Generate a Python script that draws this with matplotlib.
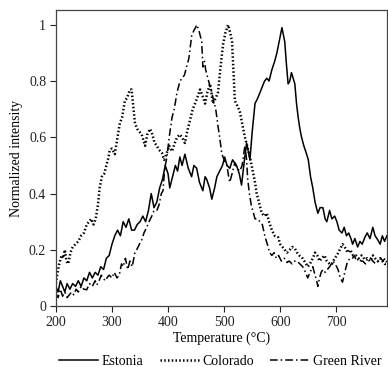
import numpy as np
import matplotlib
matplotlib.use('Agg')
import matplotlib.pyplot as plt

plt.rcParams['font.family'] = ['Liberation Serif', 'DejaVu Serif']

# Estonia (línea continua)
t_est = [200, 204, 208, 212, 216, 220, 225, 230, 235, 240, 245, 250, 255, 260, 265, 270, 275, 280,
         285, 290, 295, 300, 305, 310, 315, 320, 325, 330, 335, 340, 345, 350, 355, 360, 365, 370,
         375, 380, 385, 390, 395, 400, 403, 408, 413, 417, 421, 425, 430, 436, 442, 446, 451, 456,
         462, 466, 469, 474, 478, 483, 487, 492, 497, 501, 505, 510, 515, 522, 527, 531, 535, 540,
         543, 546, 550, 555, 560, 564, 568, 572, 576, 580, 585, 590, 594, 598, 603, 608, 611, 614,
         617, 620, 623, 626, 629, 632, 635, 638, 642, 647, 650, 654, 658, 662, 667, 671, 676, 680,
         683, 688, 692, 697, 701, 705, 710, 714, 718, 722, 726, 729, 733, 738, 742, 746, 751, 755,
         760, 765, 769, 774, 778, 782, 786, 790]
i_est = [0.07, 0.05, 0.09, 0.07, 0.05, 0.08, 0.06, 0.08, 0.07, 0.09, 0.07, 0.10, 0.09, 0.12, 0.10,
         0.12, 0.11, 0.14, 0.13, 0.17, 0.18, 0.22, 0.25, 0.27, 0.25, 0.30, 0.28, 0.31, 0.27, 0.27,
         0.29, 0.30, 0.32, 0.30, 0.34, 0.40, 0.35, 0.37, 0.42, 0.45, 0.50, 0.47, 0.42, 0.46, 0.50,
         0.48, 0.53, 0.50, 0.54, 0.49, 0.46, 0.50, 0.49, 0.44, 0.41, 0.46, 0.45, 0.42, 0.38, 0.42,
         0.46, 0.48, 0.50, 0.53, 0.50, 0.49, 0.52, 0.50, 0.47, 0.43, 0.50, 0.58, 0.55, 0.52, 0.62,
         0.72, 0.74, 0.76, 0.78, 0.80, 0.81, 0.80, 0.84, 0.87, 0.90, 0.94, 0.99, 0.94, 0.86, 0.79,
         0.80, 0.83, 0.81, 0.79, 0.72, 0.67, 0.63, 0.60, 0.57, 0.54, 0.52, 0.46, 0.42, 0.37, 0.33,
         0.35, 0.35, 0.31, 0.30, 0.34, 0.31, 0.32, 0.30, 0.27, 0.26, 0.28, 0.25, 0.26, 0.24, 0.22,
         0.24, 0.21, 0.23, 0.22, 0.245, 0.26, 0.24, 0.28, 0.25, 0.235, 0.22, 0.25, 0.23, 0.25]

# Colorado (punteada)
t_col = [200, 203, 206, 210, 213, 216, 219, 222, 226, 230, 235, 240, 245, 250, 255, 259, 263, 267,
         271, 275, 278, 282, 286, 290, 294, 296, 300, 305, 310, 314, 318, 323, 327, 332, 335, 338,
         341, 345, 349, 353, 356, 359, 363, 368, 372, 376, 380, 384, 389, 393, 397, 402, 407, 412,
         416, 421, 425, 430, 434, 439, 444, 448, 452, 457, 461, 466, 470, 475, 480, 485, 489, 493,
         498, 502, 507, 511, 514, 517, 519, 524, 528, 533, 537, 541, 546, 550, 555, 558, 562, 567,
         572, 576, 580, 585, 590, 596, 600, 604, 608, 612, 617, 621, 626, 630, 634, 638, 643, 649,
         653, 658, 662, 666, 670, 674, 679, 683, 688, 692, 697, 701, 706, 711, 715, 720, 725, 730,
         735, 740, 745, 751, 755, 760, 765, 769, 774, 778, 782, 786, 790]
i_col = [0.08, 0.12, 0.15, 0.18, 0.17, 0.20, 0.16, 0.15, 0.19, 0.21, 0.22, 0.23, 0.25, 0.26, 0.29,
         0.30, 0.31, 0.29, 0.31, 0.36, 0.42, 0.46, 0.47, 0.50, 0.53, 0.555, 0.56, 0.54, 0.60, 0.65,
         0.67, 0.73, 0.74, 0.77, 0.77, 0.71, 0.65, 0.63, 0.62, 0.61, 0.59, 0.57, 0.61, 0.63, 0.61,
         0.58, 0.57, 0.555, 0.545, 0.52, 0.54, 0.57, 0.55, 0.58, 0.60, 0.61, 0.60, 0.58, 0.62, 0.66,
         0.70, 0.72, 0.74, 0.77, 0.75, 0.72, 0.76, 0.79, 0.72, 0.74, 0.76, 0.84, 0.93, 0.97, 1.0,
         0.97, 0.94, 0.82, 0.73, 0.71, 0.69, 0.64, 0.60, 0.57, 0.53, 0.49, 0.44, 0.40, 0.37, 0.33,
         0.32, 0.33, 0.30, 0.27, 0.25, 0.245, 0.22, 0.21, 0.20, 0.19, 0.20, 0.21, 0.205, 0.19, 0.18,
         0.175, 0.16, 0.14, 0.15, 0.17, 0.19, 0.18, 0.16, 0.17, 0.18, 0.16, 0.15, 0.15, 0.17, 0.18,
         0.20, 0.22, 0.21, 0.19, 0.20, 0.18, 0.18, 0.17, 0.18, 0.165, 0.17, 0.16, 0.18, 0.17, 0.16,
         0.17, 0.16, 0.15, 0.15]

# Green River (raya-punto)
t_gr = [200, 204, 208, 212, 216, 220, 224, 228, 232, 236, 240, 245, 250, 255, 260, 265, 270, 273,
        277, 281, 284, 288, 291, 295, 300, 304, 309, 313, 317, 320, 324, 328, 332, 336, 341, 344,
        349, 353, 357, 362, 366, 371, 375, 380, 384, 388, 391, 394, 398, 402, 407, 411, 416, 420,
        424, 429, 433, 437, 442, 446, 449, 451, 455, 460, 462, 465, 467, 471, 475, 478, 480, 485,
        489, 492, 496, 500, 505, 508, 510, 514, 519, 523, 528, 532, 537, 540, 542, 545, 549, 551,
        555, 559, 564, 568, 573, 577, 581, 585, 589, 593, 597, 602, 607, 612, 616, 621, 626, 630,
        635, 640, 645, 649, 653, 658, 662, 665, 667, 670, 673, 676, 680, 684, 688, 691, 694, 698,
        703, 707, 711, 715, 720, 725, 729, 732, 736, 740, 744, 747, 752, 756, 761, 765, 770, 775,
        779, 783, 787, 790]
i_gr = [0.045, 0.03, 0.06, 0.035, 0.05, 0.03, 0.04, 0.05, 0.04, 0.06, 0.05, 0.07, 0.06, 0.058, 0.08,
        0.07, 0.09, 0.075, 0.09, 0.11, 0.10, 0.09, 0.10, 0.11, 0.10, 0.12, 0.10, 0.11, 0.15, 0.14,
        0.17, 0.13, 0.16, 0.14, 0.19, 0.20, 0.22, 0.235, 0.26, 0.28, 0.30, 0.32, 0.34, 0.34, 0.36,
        0.40, 0.41, 0.49, 0.53, 0.60, 0.67, 0.70, 0.76, 0.79, 0.81, 0.82, 0.85, 0.88, 0.96, 0.98,
        0.99, 1.0, 0.98, 0.94, 0.85, 0.87, 0.84, 0.81, 0.78, 0.76, 0.74, 0.70, 0.64, 0.60, 0.54,
        0.52, 0.50, 0.46, 0.44, 0.47, 0.51, 0.49, 0.48, 0.50, 0.57, 0.52, 0.45, 0.40, 0.35, 0.34,
        0.31, 0.31, 0.30, 0.29, 0.245, 0.22, 0.19, 0.18, 0.19, 0.17, 0.18, 0.16, 0.17, 0.155, 0.16,
        0.15, 0.16, 0.16, 0.15, 0.14, 0.12, 0.10, 0.12, 0.14, 0.11, 0.09, 0.07, 0.10, 0.12, 0.13,
        0.12, 0.13, 0.14, 0.15, 0.16, 0.15, 0.13, 0.10, 0.085, 0.12, 0.16, 0.17, 0.17, 0.18, 0.16,
        0.17, 0.16, 0.16, 0.15, 0.17, 0.17, 0.16, 0.15, 0.16, 0.17, 0.16, 0.17, 0.155]

fig = plt.figure(figsize=(3.88, 3.67), dpi=100)
ax = fig.add_axes([0.144, 0.166, 0.853, 0.807])

ax.plot(t_est, i_est, color='k', lw=1.1, ls='-', label='Estonia')
ax.plot(t_col, i_col, color='k', lw=1.8, ls=(0, (0.6, 0.9)), label='Colorado')
ax.plot(t_gr, i_gr, color='k', lw=1.1, ls=(0, (5, 2, 1, 2)), label='Green River')

ax.set_xlim(200, 790)
ax.set_ylim(0, 1.053)
ax.set_xticks([200, 300, 400, 500, 600, 700])
ax.set_yticks([0, 0.2, 0.4, 0.6, 0.8, 1])
ax.set_yticklabels(['0', '0.2', '0.4', '0.6', '0.8', '1'])
ax.tick_params(direction='out', length=4, width=0.8, labelsize=10, colors='#222222', pad=3)
for s in ax.spines.values():
    s.set_linewidth(0.9)
    s.set_color('#444444')

ax.set_xlabel('Temperature (°C)', fontsize=10, labelpad=2)
ax.set_ylabel('Normalized intensity', fontsize=10, labelpad=4)

fig.legend(loc='center', bbox_to_anchor=(0.568, 0.016), ncol=3, frameon=False,
           fontsize=10, handlelength=2.8, columnspacing=1.15, handletextpad=0.3,
           borderpad=0, borderaxespad=0)

plt.savefig('out.png', dpi=100)
plt.close()
